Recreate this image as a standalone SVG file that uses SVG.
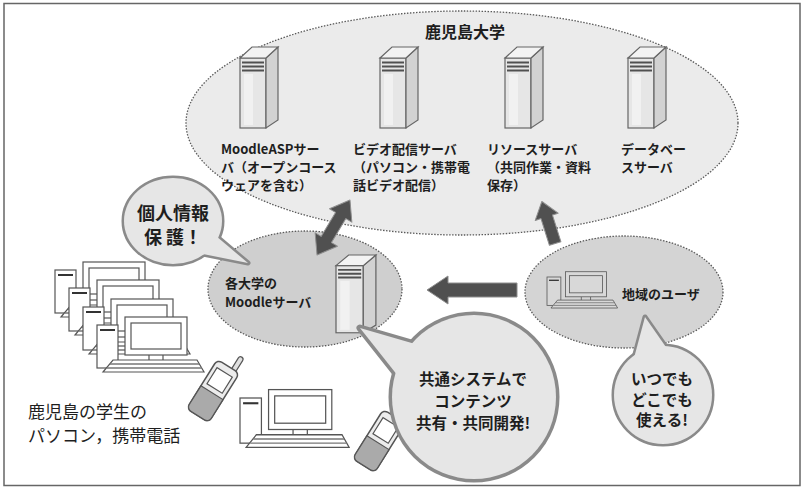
<svg xmlns="http://www.w3.org/2000/svg" xmlns:xlink="http://www.w3.org/1999/xlink" width="803" height="493" viewBox="0 0 803 493">
  <style>
    text { font-family: "Noto Sans CJK JP", "Noto Sans", sans-serif; fill: #1e1e1e; }
    .b { font-weight: bold; }
    .lbl { font-size: 13px; font-weight: bold; }
    .zone { stroke: #5a5a5a; stroke-width: 1.3; stroke-dasharray: 1.5 1.5; }
    .bub-s { fill: none; stroke: #8a8a8a; stroke-linejoin: round; }
    .bub-f { fill: #e6e6e6; stroke: none; }
    .arrow { fill: #505050; stroke: #8e8e8e; stroke-width: 1; stroke-linejoin: round; }
    .ln { stroke: #555; stroke-width: 1.2; }
    .sv-front { fill: #e6e6e6; stroke: #666; stroke-width: 1.2; }
    .sv-side { fill: #d2d2d2; stroke: #666; stroke-width: 1.2; }
    .sv-top { fill: #f3f3f3; stroke: #666; stroke-width: 1.2; }
  </style>
  <defs>
    <!-- tower server -->
    <g id="server">
      <rect class="sv-front" x="0" y="11" width="26" height="70"/>
      <rect x="4" y="27" width="9" height="51" fill="#f1f1f1"/>
      <polygon class="sv-side" points="26,11 38,0 38,73 26,81"/>
      <polygon class="sv-top" points="0,11 12,0 38,0 26,11"/>
      <path d="M2,15.5h22M2,19.5h22M2,23.5h22" stroke="#505050" stroke-width="2"/>
    </g>
    <!-- desktop PC: tower, monitor, keyboard (fill inherited) -->
    <g id="pc">
      <rect class="ln" x="0" y="0" width="21" height="43"/>
      <path d="M3,5h15" stroke="#333" stroke-width="2"/>
      <path class="ln" d="M52,30v5M66,30v5" fill="none"/>
      <rect class="ln" x="28" y="-8" width="62" height="38"/>
      <rect class="ln" x="34" y="-2" width="50" height="26"/>
      <polygon class="ln" points="16,35 100,35 107,47 6,47"/>
      <path d="M13,39h89M10,43h95" stroke="#777" stroke-width="1.3"/>
    </g>
    <!-- mobile phone, centred on origin -->
    <g id="phone">
      <rect x="4" y="-44" width="5" height="22" rx="2.5" fill="#e0e0e0" stroke="#555" stroke-width="1.2"/>
      <rect x="-13" y="-29" width="26" height="58" rx="5" fill="#ececec" stroke="#555" stroke-width="1.5"/>
      <path d="M-13,2H13V24a5,5 0 0 1-5,5H-8a5,5 0 0 1-5,-5Z" fill="#aaaaaa" stroke="#555" stroke-width="1.2"/>
      <rect x="-9" y="-22" width="18" height="19" fill="#fff" stroke="#555" stroke-width="1.2"/>
    </g>
  </defs>

  <!-- frame -->
  <rect x="4" y="3.5" width="796" height="482" fill="#fff" stroke="#666" stroke-width="1.5"/>

  <!-- university zone -->
  <g id="kagoshima-univ">
    <ellipse class="zone" cx="462" cy="123" rx="276" ry="112" fill="#ebebeb"/>
    <text class="b" x="465" y="38" font-size="16" text-anchor="middle">鹿児島大学</text>
  </g>

  <g id="srv-moodle-asp">
    <use href="#server" transform="translate(240,47)"/>
    <text class="lbl" x="221" y="154">MoodleASPサー</text>
    <text class="lbl" x="221" y="172">バ（オープンコース</text>
    <text class="lbl" x="221" y="190">ウェアを含む）</text>
  </g>
  <g id="srv-video">
    <use href="#server" transform="translate(380,47)"/>
    <text class="lbl" x="353" y="154">ビデオ配信サーバ</text>
    <text class="lbl" x="353" y="172">（パソコン・携帯電</text>
    <text class="lbl" x="353" y="190">話ビデオ配信）</text>
  </g>
  <g id="srv-resource">
    <use href="#server" transform="translate(505,47)"/>
    <text class="lbl" x="487" y="154">リソースサーバ</text>
    <text class="lbl" x="487" y="172">（共同作業・資料</text>
    <text class="lbl" x="487" y="190">保存）</text>
  </g>
  <g id="srv-database">
    <use href="#server" transform="translate(628,47)"/>
    <text class="lbl" x="621" y="154">データベー</text>
    <text class="lbl" x="621" y="172">スサーバ</text>
  </g>

  <!-- each university's Moodle server -->
  <g id="moodle-local">
    <ellipse class="zone" cx="305" cy="289" rx="97" ry="58" fill="#cfcfcf"/>
    <text class="lbl" x="225" y="288">各大学の</text>
    <text class="lbl" x="225" y="307">Moodleサーバ</text>
    <use href="#server" transform="translate(336,255) scale(1.05,0.96)"/>
  </g>

  <!-- regional users -->
  <g id="local-users">
    <ellipse class="zone" cx="624" cy="292" rx="99" ry="56" fill="#d4d4d4"/>
    <use href="#pc" fill="#d8d8d8" transform="translate(547,277) scale(0.66)"/>
    <text class="lbl" x="622" y="299">地域のユーザ</text>
  </g>

  <!-- students' PCs and phones -->
  <g id="student-devices">
    <use href="#pc" fill="#fff" transform="translate(55,270)"/>
    <use href="#pc" fill="#fff" transform="translate(69,288)"/>
    <use href="#pc" fill="#fff" transform="translate(83,307)"/>
    <use href="#pc" fill="#fff" transform="translate(97,325)"/>
    <use href="#pc" fill="#fff" transform="translate(240,398) scale(1.02,1.05)"/>
    <use href="#phone" transform="translate(213,391) rotate(32)"/>
    <use href="#phone" transform="translate(379,441) rotate(32)"/>
    <text x="28" y="418" font-size="17">鹿児島の学生の</text>
    <text x="28" y="442" font-size="17">パソコン，携帯電話</text>
  </g>

  <!-- connectors -->
  <g id="connectors">
    <polygon class="arrow" transform="translate(333.5,227.5) rotate(-59)" points="32,0 14,-13 14,-6 -14,-6 -14,-13 -32,0 -14,13 -14,6 14,6 14,13"/>
    <polygon class="arrow" transform="translate(548.5,222.5) rotate(-107.6)" points="22,0 6,-12 6,-6 -22,-6 -22,6 6,6 6,12"/>
    <polygon class="arrow" points="427,290 448,276 448,283 517,283 517,297 448,297 448,304"/>
  </g>

  <!-- callouts -->
  <g id="callout-privacy">
    <ellipse class="bub-s" cx="173" cy="221" rx="49" ry="43" stroke-width="5"/>
    <polygon class="bub-s" points="216,236 248,263 203,254" stroke-width="5"/>
    <ellipse class="bub-f" cx="173" cy="221" rx="49" ry="43"/>
    <polygon class="bub-f" points="216,236 248,263 203,254"/>
    <text class="b" x="173" y="220" font-size="18" text-anchor="middle">個人情報</text>
    <text class="b" x="173" y="244" font-size="18" text-anchor="middle">保 護！</text>
  </g>

  <g id="callout-shared">
    <circle class="bub-s" cx="474" cy="397" r="82" stroke-width="7"/>
    <polygon class="bub-s" points="360,328 422,346 398,376" stroke-width="7"/>
    <circle class="bub-f" cx="474" cy="397" r="82"/>
    <polygon class="bub-f" points="360,328 422,346 398,376"/>
    <text class="b" x="473" y="385" font-size="15.5" text-anchor="middle">共通システムで</text>
    <text class="b" x="473" y="407" font-size="15.5" text-anchor="middle">コンテンツ</text>
    <text class="b" x="473" y="429" font-size="15.5" text-anchor="middle">共有・共同開発!</text>
  </g>

  <g id="callout-anywhere">
    <circle class="bub-s" cx="663" cy="395" r="49" stroke-width="5"/>
    <polygon class="bub-s" points="645,317 668,350 634,358" stroke-width="5"/>
    <circle class="bub-f" cx="663" cy="395" r="49"/>
    <polygon class="bub-f" points="645,317 668,350 634,358"/>
    <text class="b" x="662" y="385" font-size="15.5" text-anchor="middle">いつでも</text>
    <text class="b" x="662" y="405.5" font-size="15.5" text-anchor="middle">どこでも</text>
    <text class="b" x="662" y="426" font-size="15.5" text-anchor="middle">使える!</text>
  </g>
</svg>
